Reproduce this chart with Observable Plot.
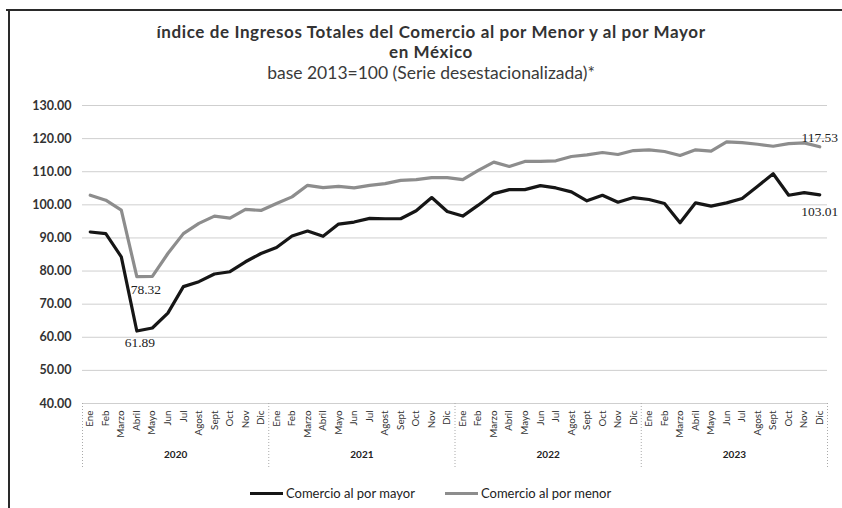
<!DOCTYPE html>
<html><head><meta charset="utf-8">
<script src="https://cdn.jsdelivr.net/npm/d3@7"></script>
<script src="https://cdn.jsdelivr.net/npm/@observablehq/plot@0.6"></script>
<style>
body{margin:0;background:#fff;}
#wrap{position:relative;width:842px;height:508px;overflow:hidden;background:#fff;font-family:Lato,"Open Sans",sans-serif;color:#222;}
#ftop{position:absolute;left:6px;top:9px;right:0;height:2px;background:#2a2a2a;}
#fleft{position:absolute;left:8px;top:9px;bottom:0;width:2px;background:#2a2a2a;}
.t{position:absolute;left:0;width:862px;text-align:center;white-space:nowrap;line-height:20px;}
#t1{top:22px;font-size:17px;letter-spacing:0.6px;font-weight:bold;color:#333;}
#t2{top:42px;font-size:17px;letter-spacing:0.6px;font-weight:bold;color:#333;}
#t3{top:63px;font-size:17.5px;color:#3a3a3a;}
#chart{position:absolute;left:0;top:90px;}
#legend{position:absolute;top:485px;left:0;width:842px;height:18px;font-size:13px;color:#222;}
.li{position:absolute;top:0;display:flex;align-items:center;}
.sw{display:inline-block;width:33px;height:3px;margin-right:3px;}
</style></head>
<body>
<div id="wrap">
  <div id="ftop"></div><div id="fleft"></div>
  <div class="t" id="t1"></div>
  <div class="t" id="t2"></div>
  <div class="t" id="t3"></div>
  <div id="chart"></div>
  <div id="legend"></div>
</div>
<script>
const titleLines = ["índice de Ingresos Totales del Comercio al por Menor y al por Mayor", "en México"];
const subtitle = "base 2013=100 (Serie desestacionalizada)*";
const months = ["Ene","Feb","Marzo","Abril","Mayo","Jun","Jul","Agost","Sept","Oct","Nov","Dic"];
const years = [2020, 2021, 2022, 2023];
const seriesNames = ["Comercio al por mayor", "Comercio al por menor"];
const yTicks = [40, 50, 60, 70, 80, 90, 100, 110, 120, 130];
const mayor = [
  91.8, 91.3, 84.3, 61.89, 62.8, 67.3, 75.3, 76.8, 79.1, 79.8, 82.8, 85.3,
  87.1, 90.6, 92.1, 90.5, 94.2, 94.8, 95.9, 95.8, 95.8, 98.2, 102.2, 98.0,
  96.6, 99.9, 103.4, 104.6, 104.6, 105.8, 105.1, 103.9, 101.2, 102.9, 100.8, 102.2,
  101.6, 100.4, 94.6, 100.6, 99.6, 100.6, 101.9, 105.6, 109.4, 102.9, 103.7, 103.01
];
const menor = [
  102.9, 101.4, 98.4, 78.32, 78.4, 85.3, 91.3, 94.4, 96.6, 96.0, 98.6, 98.3,
  100.4, 102.4, 105.9, 105.2, 105.6, 105.1, 105.9, 106.4, 107.4, 107.6, 108.2, 108.2,
  107.6, 110.4, 112.9, 111.6, 113.1, 113.1, 113.3, 114.6, 115.1, 115.8, 115.2, 116.4,
  116.6, 116.1, 114.9, 116.6, 116.2, 119.0, 118.8, 118.3, 117.7, 118.5, 118.7, 117.53
];
const colors = ["#161616", "#8d8d8d"];

document.getElementById("t1").textContent = titleLines[0];
document.getElementById("t2").textContent = titleLines[1];
document.getElementById("t3").textContent = subtitle;

const rows = [];
mayor.forEach((v, i) => rows.push({i, v, s: seriesNames[0]}));
menor.forEach((v, i) => rows.push({i, v, s: seriesNames[1]}));

const n = mayor.length;
const seps = years.map((_, k) => k * 12 - 0.5).concat([n - 0.5]);
const fmt = d3.format(".2f");
const lblStyle = {text: d => fmt(d.v), fontSize: 13.5, fontFamily: "'Liberation Serif', serif", fill: "#222"};

const chart = Plot.plot({
  width: 842,
  height: 385,
  marginLeft: 82,
  marginRight: 15,
  marginTop: 15,
  marginBottom: 72,
  style: {background: "transparent", fontFamily: "Lato, 'Open Sans', sans-serif"},
  x: {domain: [-0.5, n - 0.5], axis: null},
  y: {domain: [40, 130], axis: null},
  color: {domain: seriesNames, range: colors},
  marks: [
    Plot.gridY(yTicks, {stroke: "#cfcfcf", strokeOpacity: 1, strokeWidth: 1}),
    Plot.axisY(yTicks, {label: null, tickFormat: fmt, tickSize: 0, tickPadding: 11, fontSize: 12.5, fontWeight: "bold", fill: "#333"}),
    Plot.axisX(d3.range(n), {label: null, tickFormat: i => months[i % 12], tickRotate: -90, tickSize: 0, tickPadding: 7, fontSize: 9.8, fill: "#333"}),
    Plot.ruleX(seps, {y1: () => 40, y2: () => 20.5, stroke: "#aaa", strokeDasharray: "1,2"}),
    Plot.text(years, {x: (d, k) => k * 12 + 5.5, frameAnchor: "bottom", dy: 54, text: d => String(d), fontSize: 10, fontWeight: "bold", fill: "#222"}),
    Plot.line(rows, {x: "i", y: "v", z: "s", stroke: "s", strokeWidth: 3.2, strokeLinejoin: "round"}),
    Plot.text([{i: 3, v: mayor[3]}], {x: "i", y: "v", dx: 3, dy: 12, ...lblStyle}),
    Plot.text([{i: 3, v: menor[3]}], {x: "i", y: "v", dx: 9, dy: 13, ...lblStyle}),
    Plot.text([{i: n - 1, v: menor[n - 1]}], {x: "i", y: "v", dx: 0, dy: -9, ...lblStyle}),
    Plot.text([{i: n - 1, v: mayor[n - 1]}], {x: "i", y: "v", dx: 0, dy: 17, ...lblStyle})
  ]
});
document.getElementById("chart").appendChild(chart);

const legend = document.getElementById("legend");
const legendX = [250, 445];
seriesNames.forEach((name, k) => {
  const item = document.createElement("div");
  item.className = "li";
  item.style.left = legendX[k] + "px";
  const sw = document.createElement("span");
  sw.className = "sw";
  sw.style.background = colors[k];
  const tx = document.createElement("span");
  tx.textContent = name;
  item.appendChild(sw); item.appendChild(tx);
  legend.appendChild(item);
});
</script>
</body></html>
